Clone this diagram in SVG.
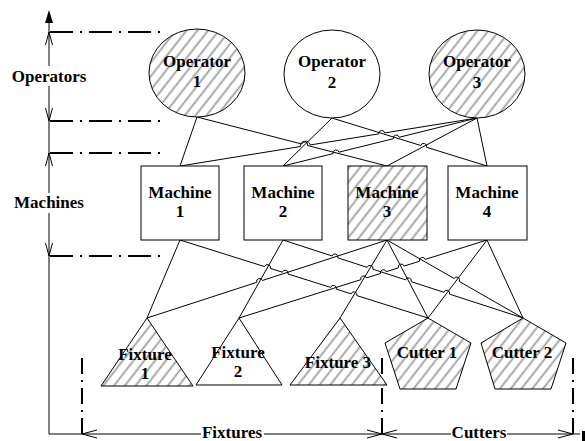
<svg xmlns="http://www.w3.org/2000/svg" width="585" height="441" viewBox="0 0 585 441">
<defs>
<pattern id="hatch" patternUnits="userSpaceOnUse" width="8.5" height="8.5" patternTransform="rotate(38)">
<rect width="8.5" height="8.5" fill="#fff"/>
<line x1="4.25" y1="0" x2="4.25" y2="8.5" stroke="#9a9a9a" stroke-width="1.7"/>
</pattern>
</defs>
<style>
.n{fill:#fff;stroke:#000;stroke-width:1}
.h{fill:url(#hatch);stroke:#000;stroke-width:1}
.t{font-family:"Liberation Serif","Times New Roman",serif;font-weight:bold;font-size:17px;text-anchor:middle;fill:#000}
.c{fill:none;stroke:#000;stroke-width:1}
.dh{fill:none;stroke:#000;stroke-width:2;stroke-dasharray:23 7 2 7}
.dv{fill:none;stroke:#000;stroke-width:2;stroke-dasharray:16 6 2 6}
.ar{fill:none;stroke:#000;stroke-width:1}
.bg{fill:#fff}
</style>

<g id="axes">
<line class="c" x1="49" y1="20" x2="49" y2="434"/>
<polygon points="49,10 45,23 53,23" fill="#000"/>
<line class="c" x1="49" y1="434" x2="580" y2="434"/>
<rect x="582" y="431" width="3" height="10" fill="#000"/>
<line class="dh" x1="50" y1="32" x2="160" y2="32"/>
<line class="dh" x1="50" y1="121" x2="160" y2="121"/>
<line class="dh" x1="50" y1="153" x2="160" y2="153"/>
<line class="dh" x1="50" y1="256" x2="160" y2="256"/>
<line class="dv" x1="82" y1="358" x2="82" y2="434"/>
<line class="dv" x1="382" y1="358" x2="382" y2="434"/>
<line class="dv" x1="573" y1="358" x2="573" y2="434"/>
<polyline class="ar" points="45.5,45 49,32 52.5,45"/>
<polyline class="ar" points="45.5,108 49,121 52.5,108"/>
<polyline class="ar" points="45.5,166 49,153 52.5,166"/>
<polyline class="ar" points="45.5,243 49,256 52.5,243"/>
<polyline class="ar" points="97,430 82,434 97,438"/>
<polyline class="ar" points="367,430 382,434 367,438"/>
<polyline class="ar" points="397,430 382,434 397,438"/>
<polyline class="ar" points="558,430 573,434 558,438"/>
<rect class="bg" x="10" y="66" width="78" height="20"/>
<text class="t" x="49" y="82">Operators</text>
<rect class="bg" x="11" y="193" width="76" height="20"/>
<text class="t" x="49" y="208">Machines</text>
<rect class="bg" x="201" y="426" width="63" height="15"/>
<text class="t" x="232" y="438">Fixtures</text>
<rect class="bg" x="451" y="426" width="56" height="15"/>
<text class="t" x="479" y="438">Cutters</text>
</g>

<g id="connectors">
<path class="c" d="M197,117 L180,166"/>
<path class="c" d="M197,117 L301.8,144.03 A3,3 0 0 1 307.6,145.53 L387,166"/>
<path class="c" d="M332,118 L283,166"/>
<path class="c" d="M332,118 L420.84,145.51 A3,3 0 0 1 426.57,147.29 L487,166"/>
<path class="c" d="M180,166 L300.3,146.56 A5.1,5.1 0 0 1 310.3,144.94 L378.74,133.89 A3,3 0 0 1 384.66,132.93 L477,118"/>
<path class="c" d="M283,166 L333.09,153.61 A3,3 0 0 1 338.91,152.17 L393.39,138.69 A3,3 0 0 1 399.21,137.25 L477,118"/>
<path class="c" d="M477,118 L387,166"/>
<path class="c" d="M477,118 L487,166"/>

<path class="c" d="M180,240 L147,318"/>
<path class="c" d="M180,240 L264.64,266.62 A3,3 0 0 1 270.36,268.42 L282.34,272.19 A3,3 0 0 1 288.06,273.99 L330.64,287.38 A3,3 0 0 1 336.36,289.18 L351.14,293.82 A3,3 0 0 1 356.86,295.62 L428,318"/>
<path class="c" d="M283,240 L239,318"/>
<path class="c" d="M283,240 L332.15,255.97 A3,3 0 0 1 337.85,257.83 L367.15,267.35 A3,3 0 0 1 372.85,269.21 L405.55,279.83 A3,3 0 0 1 411.25,281.69 L443.85,292.27 A3,3 0 0 1 449.55,294.13 L523,318"/>
<path class="c" d="M147,318 L256.75,282.34 A3,3 0 0 1 262.45,280.48 L387,240"/>
<path class="c" d="M387,240 L340,318"/>
<path class="c" d="M387,240 L428,318"/>
<path class="c" d="M387,240 L454.10,278.48 A3,3 0 0 1 459.30,281.46 L523,318"/>
<path class="c" d="M239,318 L360.74,279.71 A3,3 0 0 1 366.46,277.91 L380.44,273.51 A3,3 0 0 1 386.16,271.71 L398.34,267.88 A3,3 0 0 1 404.06,266.08 L419.54,261.22 A3,3 0 0 1 425.26,259.42 L487,240"/>
<path class="c" d="M487,240 L428,318"/>
<path class="c" d="M487,240 L523,318"/>
</g>

<g id="operator1">
<ellipse class="h" cx="197" cy="73" rx="48" ry="44"/>
<text class="t" x="197" y="67">Operator</text>
<text class="t" x="197" y="87">1</text>
</g>
<g id="operator2">
<ellipse class="n" cx="332" cy="74" rx="48" ry="44"/>
<text class="t" x="332" y="67">Operator</text>
<text class="t" x="332" y="88">2</text>
</g>
<g id="operator3">
<ellipse class="h" cx="477" cy="74" rx="48" ry="44"/>
<text class="t" x="477" y="67">Operator</text>
<text class="t" x="477" y="88">3</text>
</g>

<g id="machine1">
<rect class="n" x="141" y="166" width="78" height="74"/>
<text class="t" x="180" y="198">Machine</text>
<text class="t" x="180" y="217">1</text>
</g>
<g id="machine2">
<rect class="n" x="244" y="166" width="78" height="74"/>
<text class="t" x="283" y="198">Machine</text>
<text class="t" x="283" y="217">2</text>
</g>
<g id="machine3">
<rect class="h" x="348" y="166" width="79" height="74"/>
<text class="t" x="387" y="198">Machine</text>
<text class="t" x="387" y="217">3</text>
</g>
<g id="machine4">
<rect class="n" x="448" y="166" width="79" height="74"/>
<text class="t" x="487" y="198">Machine</text>
<text class="t" x="487" y="217">4</text>
</g>

<g id="fixture1">
<polygon class="h" points="147,318 101,386 193,386"/>
<text class="t" x="145" y="360">Fixture</text>
<text class="t" x="145" y="379">1</text>
</g>
<g id="fixture2">
<polygon class="n" points="239,318 196,385 282,385"/>
<text class="t" x="238" y="358">Fixture</text>
<text class="t" x="238" y="377">2</text>
</g>
<g id="fixture3">
<polygon class="h" points="340,318 290,385 387,385"/>
<text class="t" x="338" y="368">Fixture 3</text>
</g>
<g id="cutter1">
<polygon class="h" points="428,318 471,343 456,389 400,389 385,343"/>
<text class="t" x="427" y="358">Cutter 1</text>
</g>
<g id="cutter2">
<polygon class="h" points="523,318 566,343 551,389 495,389 481,343"/>
<text class="t" x="522" y="358">Cutter 2</text>
</g>
</svg>
